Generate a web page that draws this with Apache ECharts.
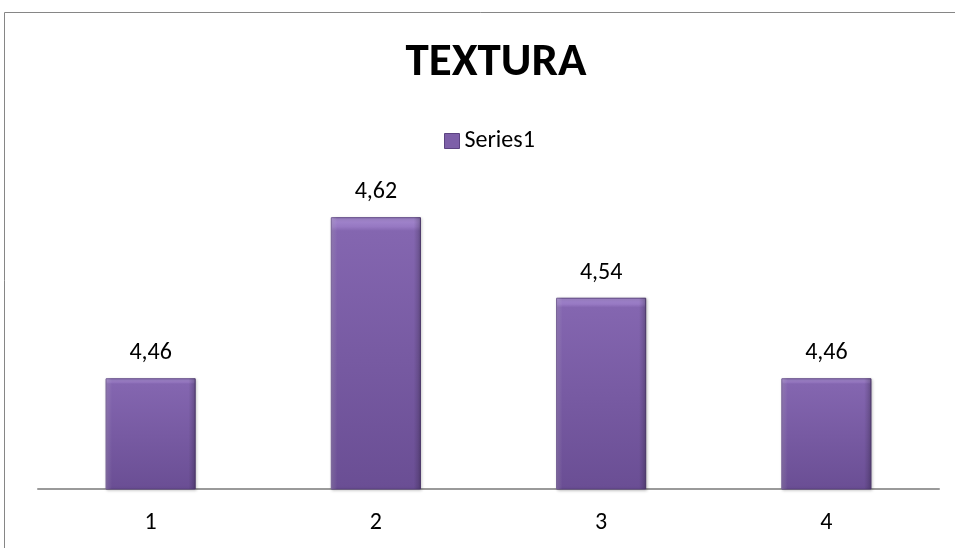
<!DOCTYPE html>
<html>
<head>
<meta charset="utf-8">
<script src="https://cdn.jsdelivr.net/npm/echarts@6/dist/echarts.min.js"></script>
<style>html,body{margin:0;padding:0;background:#fff}#c{width:955px;height:548px}</style>
</head>
<body>
<div id="c"></div>
<script>
const categories = ['1', '2', '3', '4'];
const values = [4.46, 4.62, 4.54, 4.46];
const seriesName = 'Series1';
const titleText = 'TEXTURA';

const chart = echarts.init(document.getElementById('c'));
const font = 'Carlito, Calibri, "Liberation Sans", sans-serif';
chart.setOption({
  animation: false,
  backgroundColor: '#fff',
  title: {
    text: titleText,
    left: 491, top: 35, textAlign: 'center',
    textStyle: { fontFamily: font, fontWeight: 'bold', fontSize: 47, color: '#000' }
  },
  legend: {
    data: [seriesName],
    left: 439, top: 124,
    itemWidth: 15, itemHeight: 15, itemGap: 4,
    icon: 'rect',
    itemStyle: { color: '#7d5fa8', borderColor: '#5c4382', borderWidth: 1 },
    textStyle: { fontFamily: font, fontSize: 24, color: '#000', padding: [0, 0, 0, 0] }
  },
  graphic: [{
    type: 'rect', silent: true, z: -1,
    shape: { x: 4.5, y: 12.5, width: 1000, height: 600 },
    style: { fill: 'none', stroke: '#868686', lineWidth: 1 }
  }],
  grid: { left: 38, right: 16, top: 187, bottom: 59 },
  xAxis: {
    type: 'category', data: categories,
    axisLine: { lineStyle: { color: '#9a9a9a', width: 2 } },
    axisTick: { show: false },
    axisLabel: { fontFamily: font, fontSize: 24, color: '#000', margin: 22 }
  },
  yAxis: {
    type: 'value', min: 4.35, max: 4.65, interval: 0.05,
    show: false, splitLine: { show: false }
  },
  series: [{
    name: seriesName, type: 'bar', data: values,
    barWidth: '40%',
    itemStyle: {
      color: new echarts.graphic.LinearGradient(0, 0, 0, 1, [
        { offset: 0, color: '#a68bd0' },
        { offset: 0.035, color: '#9678c2' },
        { offset: 0.05, color: '#8466b0' },
        { offset: 1, color: '#6a4e94' }
      ]),
      borderColor: '#5c4382', borderWidth: 1,
      shadowColor: 'rgba(0,0,0,0.25)', shadowBlur: 3, shadowOffsetX: 1, shadowOffsetY: 1
    },
    label: {
      show: true, position: 'top', distance: 13,
      fontFamily: font, fontSize: 24, color: '#000',
      formatter: p => p.value.toFixed(2).replace('.', ',')
    }
  }, {
    name: 'bevel', type: 'bar', data: values, silent: true,
    barWidth: '40%', barGap: '-100%',
    itemStyle: {
      color: new echarts.graphic.LinearGradient(0, 0, 1, 0, [
        { offset: 0, color: 'rgba(255,255,255,0.18)' },
        { offset: 0.07, color: 'rgba(255,255,255,0.0)' },
        { offset: 0.92, color: 'rgba(0,0,0,0.0)' },
        { offset: 1, color: 'rgba(0,0,0,0.22)' }
      ])
    },
    label: { show: false }
  }]
});
</script>
</body>
</html>
